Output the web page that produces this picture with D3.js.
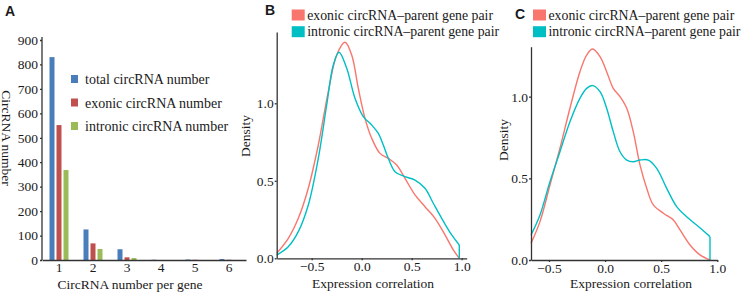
<!DOCTYPE html>
<html>
<head>
<meta charset="utf-8">
<script src="https://cdn.jsdelivr.net/npm/d3@7"></script>
</head>
<body style="margin:0;background:#fff">
<div id="chart"></div>
<script>
// ---- panel A data ----
var groups = [1, 2, 3, 4, 5, 6];
var barSeries = ["total circRNA number", "exonic circRNA number", "intronic circRNA number"];
var barColors = ["#4a7ebb", "#c0504d", "#9bbb59"];
var totalCounts = [830, 125, 44, 1, 2, 4];
var exonicCounts = [552, 68, 11, 0, 1, 1];
var intronicCounts = [368, 45, 8, 0, 0, 0];
var countTicks = [0, 100, 200, 300, 400, 500, 600, 700, 800, 900];

// ---- panels B / C data (density curves) ----
var pairSeries = ["exonic circRNA\u2013parent gene pair", "intronic circRNA\u2013parent gene pair"];
var pairColors = ["#f8766d", "#00bfc4"];
var corrTicks = [-0.5, 0.0, 0.5, 1.0];
var densTicks = [0.0, 0.5, 1.0];

var bExonic = [[-0.85,0.032],[-0.734,0.129],[-0.634,0.258],[-0.534,0.452],[-0.434,0.731],[-0.334,1.075],
  [-0.25,1.312],[-0.167,1.394],[-0.10,1.312],[-0.034,1.097],[0.033,0.903],[0.10,0.774],[0.183,0.677],
  [0.266,0.645],[0.35,0.602],[0.433,0.516],[0.533,0.409],[0.633,0.333],[0.733,0.258],[0.833,0.151],
  [0.916,0.054],[0.976,0]];
var bIntronic = [[-0.85,0.021],[-0.734,0.075],[-0.634,0.172],[-0.534,0.344],[-0.434,0.645],[-0.35,0.989],
  [-0.284,1.247],[-0.227,1.329],[-0.15,1.226],[-0.067,1.032],[0.016,0.914],[0.10,0.860],[0.166,0.806],
  [0.216,0.731],[0.266,0.645],[0.333,0.559],[0.433,0.527],[0.533,0.505],[0.633,0.452],[0.716,0.355],
  [0.80,0.258],[0.90,0.151],[0.976,0.086],[0.976,0]];
var cExonic = [[-0.66,0.102],[-0.58,0.235],[-0.491,0.459],[-0.402,0.684],[-0.313,0.929],[-0.224,1.153],
  [-0.164,1.255],[-0.111,1.292],[-0.045,1.245],[0.014,1.153],[0.073,1.051],[0.133,1.0],[0.193,0.929],
  [0.251,0.786],[0.311,0.582],[0.371,0.439],[0.43,0.337],[0.519,0.286],[0.608,0.245],[0.668,0.184],
  [0.757,0.092],[0.846,0.031],[0.935,0]];
var cIntronic = [[-0.66,0.153],[-0.58,0.276],[-0.491,0.48],[-0.402,0.663],[-0.313,0.847],[-0.224,0.99],
  [-0.164,1.051],[-0.111,1.068],[-0.045,1.031],[0.014,0.929],[0.073,0.786],[0.133,0.663],[0.193,0.612],
  [0.251,0.602],[0.311,0.612],[0.385,0.612],[0.46,0.561],[0.549,0.439],[0.638,0.327],[0.727,0.265],
  [0.816,0.214],[0.935,0.143],[0.935,0]];

var serif = "'Liberation Serif', 'Times New Roman', 'DejaVu Serif', serif";
var sans = "'Liberation Sans', Arial, sans-serif";
var textColor = "#1a1a1a";

var w = 743, h = 294;
var svg = d3.select("#chart").append("svg").attr("width", w).attr("height", h);

// apply the look of the reference axes (d3 defaults to 10px sans-serif)
function styleAxis(sel) {
    sel.attr("font-family", serif).attr("font-size", 13.5);
    sel.selectAll("path, line").attr("stroke", "#333").attr("stroke-width", 1.3);
    sel.selectAll("text").attr("fill", textColor);
}

function addText(parent, size, family) {
    return parent.append("text")
        .attr("font-family", family || serif)
        .attr("font-size", size)
        .attr("fill", textColor);
}

// ================= panel A =================
var xA = d3.scaleBand().domain(groups).range([42, 246]).padding(0);
var xInner = d3.scaleBand().domain(barSeries).range([-10.5, 10.5]).paddingInner(2/7).paddingOuter(1/7);
var yA = d3.scaleLinear().domain([0, 900]).range([260, 40]);

var seriesValues = [totalCounts, exonicCounts, intronicCounts];
var barData = [];
groups.forEach(function(g, i) {
    barSeries.forEach(function(s, j) {
        barData.push({group: g, series: s, value: seriesValues[j][i], color: barColors[j]});
    });
});

svg.selectAll(".bar")
    .data(barData)
    .enter()
    .append("rect")
    .attr("class", "bar")
    .attr("x", function(d) { return xA(d.group) + xA.bandwidth() / 2 + xInner(d.series); })
    .attr("y", function(d) { return yA(d.value); })
    .attr("width", xInner.bandwidth())
    .attr("height", function(d) { return yA(0) - yA(d.value); })
    .attr("fill", function(d) { return d.color; });

var yAxisA = svg.append("g")
    .attr("transform", "translate(42,0)")
    .call(d3.axisLeft(yA).tickValues(countTicks).tickSize(2).tickSizeOuter(0).tickPadding(2));
yAxisA.select(".domain").attr("d", "M0," + (yA(900) - 3) + "V" + yA(0));
styleAxis(yAxisA);

svg.append("g")
    .attr("transform", "translate(0,260)")
    .call(d3.axisBottom(xA).tickSize(0).tickPadding(2.5))
    .call(styleAxis);

addText(svg, 13.5)
    .attr("transform", "translate(7,138) rotate(90)")
    .attr("text-anchor", "middle")
    .attr("dy", "0.35em")
    .text("CircRNA number");

addText(svg, 13.5)
    .attr("x", 130).attr("y", 289)
    .attr("text-anchor", "middle")
    .text("CircRNA number per gene");

// legend A
var legA = svg.append("g").attr("transform", "translate(71,75)");
legA.selectAll("rect")
    .data(barSeries)
    .enter()
    .append("rect")
    .attr("x", 0)
    .attr("y", function(d, i) { return i * 23.5; })
    .attr("width", 7).attr("height", 8)
    .attr("fill", function(d, i) { return barColors[i]; });
legA.selectAll("text")
    .data(barSeries)
    .enter()
    .append("text")
    .attr("font-family", serif)
    .attr("font-size", 14)
    .attr("fill", textColor)
    .attr("x", 14)
    .attr("y", function(d, i) { return i * 23.5 + 9; })
    .text(function(d) { return d; });

addText(svg, 14, sans).attr("font-weight", "bold").attr("x", 5).attr("y", 16).text("A");

// ================= panels B / C =================
function densityPanel(opt) {
    var x = d3.scaleLinear().domain(opt.xDomain).range(opt.xRange);
    var y = d3.scaleLinear().domain(opt.yDomain).range(opt.yRange);
    var g = svg.append("g");

    var curve = d3.line()
        .x(function(d) { return x(d[0]); })
        .y(function(d) { return y(d[1]); })
        .curve(d3.curveCatmullRom.alpha(0.5));
    var straight = d3.line()
        .x(function(d) { return x(d[0]); })
        .y(function(d) { return y(d[1]); });

    opt.series.forEach(function(arr, i) {
        var last = arr[arr.length - 1], prev = arr[arr.length - 2];
        var body = (last[0] === prev[0]) ? arr.slice(0, -1) : arr;
        g.append("path").datum(body)
            .attr("d", curve)
            .attr("fill", "none")
            .attr("stroke", pairColors[i])
            .attr("stroke-width", 1.4);
        if (body !== arr) {
            g.append("path").datum(arr.slice(-2))
                .attr("d", straight)
                .attr("fill", "none")
                .attr("stroke", pairColors[i])
                .attr("stroke-width", 1.4);
        }
    });

    g.append("g")
        .attr("transform", "translate(" + opt.xRange[0] + ",0)")
        .call(d3.axisLeft(y).tickValues(densTicks).tickFormat(d3.format(".1f")).tickSize(2).tickSizeOuter(0).tickPadding(1))
        .call(styleAxis);

    g.append("g")
        .attr("transform", "translate(0," + opt.yRange[0] + ")")
        .call(d3.axisBottom(x).tickValues(corrTicks).tickFormat(d3.format(".1f")).tickSize(2).tickSizeOuter(0).tickPadding(1))
        .call(styleAxis);

    addText(g, 13.5)
        .attr("transform", "translate(" + opt.yTitleX + "," + opt.yTitleY + ") rotate(-90)")
        .attr("text-anchor", "middle")
        .attr("dy", "0.35em")
        .text("Density");

    addText(g, 13.5)
        .attr("x", opt.xTitleX).attr("y", 288)
        .attr("text-anchor", "middle")
        .text("Expression correlation");

    var leg = g.append("g").attr("transform", "translate(" + opt.legX + ",9.5)");
    leg.selectAll("rect")
        .data(pairSeries)
        .enter()
        .append("rect")
        .attr("x", 0)
        .attr("y", function(d, i) { return i * 16.7; })
        .attr("width", 13).attr("height", 11)
        .attr("fill", function(d, i) { return pairColors[i]; });
    leg.selectAll("text")
        .data(pairSeries)
        .enter()
        .append("text")
        .attr("font-family", serif)
        .attr("font-size", 13.8)
        .attr("fill", textColor)
        .attr("x", 15.5)
        .attr("y", function(d, i) { return i * 16.7 + 10; })
        .text(function(d) { return d; });

    addText(svg, 14, sans).attr("font-weight", "bold")
        .attr("x", opt.letterX).attr("y", opt.letterY).text(opt.letter);
}

densityPanel({
    series: [bExonic, bIntronic],
    xDomain: [-0.85, 1.05], xRange: [276.7, 466.7],
    yDomain: [0, 1.46], yRange: [258.3, 32],
    yTitleX: 245, yTitleY: 136, xTitleX: 373,
    legX: 291.7, letter: "B", letterX: 265, letterY: 15
});

densityPanel({
    series: [cExonic, cIntronic],
    xDomain: [-0.66, 1.0], xRange: [531, 717.3],
    yDomain: [0, 1.306], yRange: [260, 46.7],
    yTitleX: 503, yTitleY: 140, xTitleX: 631,
    legX: 533, letter: "C", letterX: 515, letterY: 19
});
</script>
</body>
</html>
